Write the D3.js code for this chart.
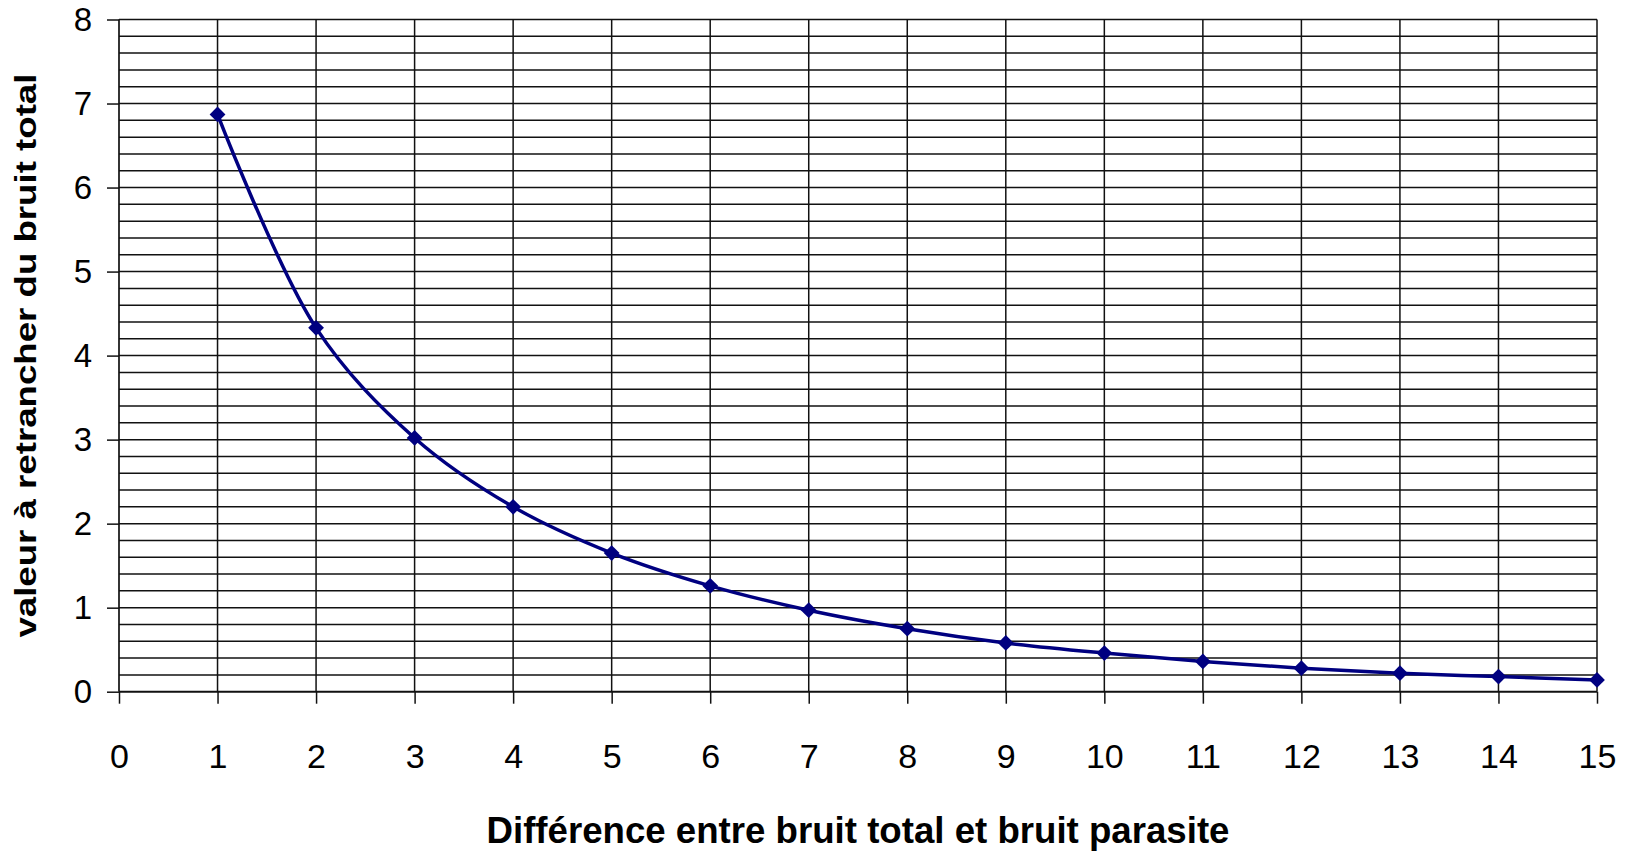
<!DOCTYPE html>
<html>
<head>
<meta charset="utf-8">
<script src="https://cdn.jsdelivr.net/npm/d3@7"></script>
<style>
  body { margin: 0; background: #fff; }
  svg { display: block; font-family: Arial, "Liberation Sans", sans-serif; }
</style>
</head>
<body>
<div id="plot"></div>
<script>
var width = 1629;
var height = 851;

// data
var diffs = [1, 2, 3, 4, 5, 6, 7, 8, 9, 10, 11, 12, 13, 14, 15];
var values = [6.87, 4.33, 3.02, 2.20, 1.65, 1.26, 0.97, 0.75, 0.58, 0.46, 0.36, 0.28, 0.22, 0.18, 0.14];
var x_ticks = [0, 1, 2, 3, 4, 5, 6, 7, 8, 9, 10, 11, 12, 13, 14, 15];
var y_ticks = [0, 1, 2, 3, 4, 5, 6, 7, 8];
var x_title = 'Différence entre bruit total et bruit parasite';
var y_title = 'valeur à retrancher du bruit total';

var margin = {left: 119, right: 32, top: 19.5, bottom: 159.3};

var canvas = d3.select('#plot')
    .append('svg')
    .attr('width', width)
    .attr('height', height);

var x_scale = d3.scaleLinear()
    .domain([0, 15])
    .range([margin.left, width - margin.right]);

var y_scale = d3.scaleLinear()
    .domain([0, 8])
    .range([height - margin.bottom, margin.top]);

var grid_color = '#111';

// horizontal grid every 0.2
var minor = d3.range(0, 41).map(function(i) { return i / 5; });
canvas.selectAll('line.hgrid')
    .data(minor)
    .enter()
    .append('line')
    .attr('class', 'hgrid')
    .attr('x1', x_scale(0))
    .attr('x2', x_scale(15))
    .attr('y1', function(d) { return y_scale(d); })
    .attr('y2', function(d) { return y_scale(d); })
    .attr('stroke', grid_color)
    .attr('stroke-width', 1.5);

// vertical grid at every unit
canvas.selectAll('line.vgrid')
    .data(x_ticks.slice(1))
    .enter()
    .append('line')
    .attr('class', 'vgrid')
    .attr('x1', function(d) { return x_scale(d); })
    .attr('x2', function(d) { return x_scale(d); })
    .attr('y1', y_scale(0))
    .attr('y2', y_scale(8))
    .attr('stroke', grid_color)
    .attr('stroke-width', 1.5);

// axes
var x_axis = d3.axisBottom(x_scale)
    .tickValues(x_ticks)
    .tickFormat(d3.format('d'))
    .tickSize(12)
    .tickPadding(40);

var y_axis = d3.axisLeft(y_scale)
    .tickValues(y_ticks)
    .tickFormat(d3.format('d'))
    .tickSize(12)
    .tickPadding(15);

var gx = canvas.append('g')
    .attr('class', 'x-axis')
    .attr('transform', 'translate(0,' + y_scale(0) + ')')
    .call(x_axis);

var gy = canvas.append('g')
    .attr('class', 'y-axis')
    .attr('transform', 'translate(' + x_scale(0) + ',0)')
    .call(y_axis);

gx.selectAll('.tick text').attr('font-size', 34);
gy.selectAll('.tick text').attr('font-size', 33);

[gx, gy].forEach(function(g) {
    g.select('.domain').remove();
    g.selectAll('.tick line').attr('stroke', grid_color).attr('stroke-width', 1.5);
    g.selectAll('.tick text')
        .attr('fill', '#000')
        .attr('font-family', 'Arial, "Liberation Sans", sans-serif');
});

// axis lines
canvas.append('line')
    .attr('x1', x_scale(0)).attr('x2', x_scale(0))
    .attr('y1', y_scale(0)).attr('y2', y_scale(8))
    .attr('stroke', grid_color).attr('stroke-width', 1.7);
canvas.append('line')
    .attr('x1', x_scale(0)).attr('x2', x_scale(15))
    .attr('y1', y_scale(0)).attr('y2', y_scale(0))
    .attr('stroke', grid_color).attr('stroke-width', 1.7);

// the curve
var points = diffs.map(function(d, i) { return [d, values[i]]; });

var line = d3.line()
    .x(function(d) { return x_scale(d[0]); })
    .y(function(d) { return y_scale(d[1]); })
    .curve(d3.curveCatmullRom.alpha(0.5));

canvas.append('path')
    .datum(points)
    .attr('d', line)
    .attr('fill', 'none')
    .attr('stroke', '#000080')
    .attr('stroke-width', 3.5);

var diamond = d3.symbol().type(d3.symbolSquare).size(125);
canvas.selectAll('path.marker')
    .data(points)
    .enter()
    .append('path')
    .attr('class', 'marker')
    .attr('d', diamond)
    .attr('transform', function(d) {
        return 'translate(' + x_scale(d[0]) + ',' + y_scale(d[1]) + ') rotate(45)';
    })
    .attr('fill', '#000080');

// titles
canvas.append('text')
    .attr('x', (x_scale(0) + x_scale(15)) / 2)
    .attr('y', 843)
    .attr('text-anchor', 'middle')
    .attr('font-size', 37)
    .attr('font-weight', 'bold')
    .attr('textLength', 743)
    .attr('lengthAdjust', 'spacingAndGlyphs')
    .text(x_title);

canvas.append('text')
    .attr('transform', 'translate(36,' + ((y_scale(0) + y_scale(8)) / 2) + ') rotate(-90)')
    .attr('text-anchor', 'middle')
    .attr('font-size', 29)
    .attr('font-weight', 'bold')
    .attr('textLength', 564)
    .attr('lengthAdjust', 'spacingAndGlyphs')
    .text(y_title);
</script>
</body>
</html>
